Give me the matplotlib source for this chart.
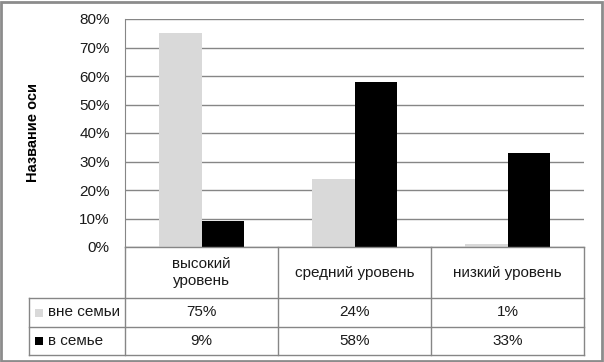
import matplotlib.pyplot as plt
import numpy as np
from matplotlib.patches import Rectangle
from matplotlib.ticker import PercentFormatter

categories = ["высокий\nуровень", "средний уровень", "низкий уровень"]
series_names = ["вне семьи", "в семье"]
outside_family = [75, 24, 1]
in_family = [9, 58, 33]
series_colors = ["#d9d9d9", "#000000"]

GRID = "#868686"
FONT = "Liberation Sans"
FS = 11

plt.rcParams["font.family"] = [FONT, "DejaVu Sans"]

fig = plt.figure(figsize=(6.04, 3.62), dpi=100)
W, H = 604, 362
# plot area in pixels: left, top, right, bottom
left, top, right, bottom = 125, 19, 584, 247
ax = fig.add_axes([left / W, 1 - bottom / H, (right - left) / W, (bottom - top) / H])

x = np.arange(len(categories))
width = 0.28
for i, (vals, color) in enumerate(zip([outside_family, in_family], series_colors)):
    ax.bar(x + (i - 0.5) * width, vals, width, color=color, zorder=2)

ax.set_xlim(-0.5, len(categories) - 0.5)
ax.set_ylim(0, 80)
ax.set_yticks(range(0, 81, 10))
ax.yaxis.set_major_formatter(PercentFormatter(decimals=0))
ax.yaxis.grid(True, color=GRID, linewidth=1)
ax.set_axisbelow(True)
ax.tick_params(axis="y", length=0, pad=11, labelsize=FS, labelcolor="#1a1a1a")
ax.tick_params(axis="x", length=0, labelbottom=False)
for side in ["top", "right", "bottom"]:
    ax.spines[side].set_visible(False)
ax.spines["left"].set_color(GRID)

ax.set_ylabel("Название оси", fontsize=10.5, fontweight="bold")
ax.yaxis.set_label_coords(-0.185, 0.5)

# data table below the plot
axh = bottom - top
axw = right - left
row_y = [0, -(298 - bottom) / axh, -(327 - bottom) / axh, -(355 - bottom) / axh]
table_left = (29 - left) / axw
tr = ax.transAxes
line_kw = dict(color=GRID, linewidth=1, transform=tr, clip_on=False)

ax.plot([0, 1], [row_y[0], row_y[0]], **line_kw)
for yy in row_y[1:]:
    ax.plot([table_left, 1], [yy, yy], **line_kw)
ax.plot([table_left, table_left], [row_y[1], row_y[3]], **line_kw)
for k in range(len(categories) + 1):
    xf = k / len(categories)
    ax.plot([xf, xf], [row_y[0], row_y[3]], **line_kw)

for k, cat in enumerate(categories):
    xc = (k + 0.5) / len(categories)
    ax.text(xc, (row_y[0] + row_y[1]) / 2, cat, transform=tr, ha="center",
            va="center", fontsize=FS, linespacing=1.25, color="#1a1a1a")
    for r, vals in enumerate([outside_family, in_family]):
        ax.text(xc, (row_y[r + 1] + row_y[r + 2]) / 2, f"{vals[k]}%",
                transform=tr, ha="center", va="center", fontsize=FS,
                color="#1a1a1a")

sq = 8
for r, (name, color) in enumerate(zip(series_names, series_colors)):
    yc = (row_y[r + 1] + row_y[r + 2]) / 2
    ax.add_patch(Rectangle(((35 - left) / axw, yc - sq / 2 / axh), sq / axw, sq / axh,
                           facecolor=color, edgecolor="none", transform=tr,
                           clip_on=False))
    ax.text((48 - left) / axw, yc, name, transform=tr, ha="left", va="center",
            fontsize=FS, color="#1a1a1a")

# chart border
fig.patches.append(Rectangle((1 / W, 1 / H), 1 - 3 / W, 1 - 3 / H, fill=False,
                             edgecolor="#8c8c8c", linewidth=2,
                             transform=fig.transFigure))

fig.savefig("out.png", dpi=100)
